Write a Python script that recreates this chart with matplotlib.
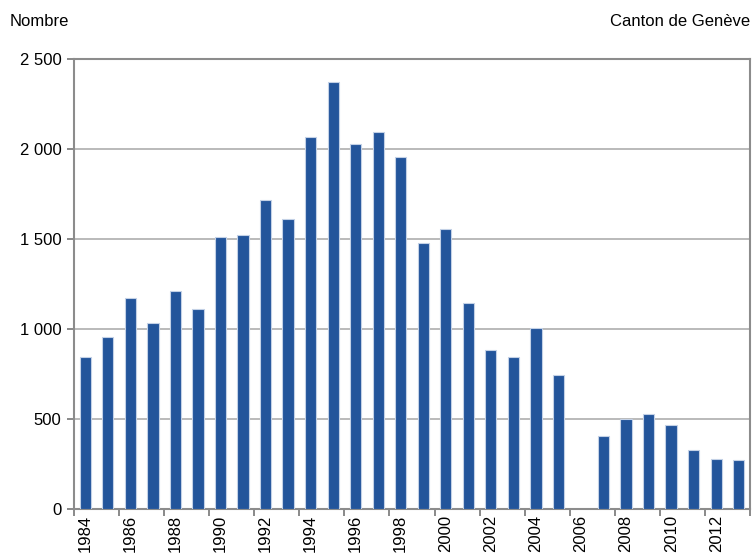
import numpy as np
import matplotlib
matplotlib.use("Agg")
import matplotlib.pyplot as plt
from matplotlib.ticker import FuncFormatter

years = list(range(1984, 2014))
values = [844, 955, 1172, 1033, 1212, 1112, 1513, 1523, 1717, 1610,
          2066, 2373, 2025, 2097, 1956, 1480, 1558, 1142, 883, 844,
          1005, 745, np.nan, 405, 498, 527, 468, 330, 280, 270]
y_ticks = [0, 500, 1000, 1500, 2000, 2500]

plt.rcParams['font.family'] = ['Liberation Sans Narrow', 'Liberation Sans', 'DejaVu Sans']

fig = plt.figure(figsize=(7.54, 5.54), dpi=100)
ax = fig.add_axes([74/754, 1-509/554, (750-74)/754, (509-59)/554])

x = np.arange(len(years))
ax.bar(x, values, width=0.5, color='#23559b', edgecolor='#c3d1e6', linewidth=0.8, zorder=3)

ax.set_xlim(-0.5, len(years)-0.5)
ax.set_ylim(0, 2500)
ax.set_yticks(y_ticks)
ax.yaxis.set_major_formatter(FuncFormatter(lambda v, p: f"{int(v):,}".replace(",", " ")))
ax.grid(axis='y', color='#b4b4b4', linewidth=1.3, zorder=0)
ax.set_axisbelow(True)

ax.set_xticks(x[::2])
ax.set_xticklabels([str(y) for y in years[::2]], rotation=90)
ax.set_xticks(np.arange(-0.5, len(years), 2), minor=True)
ax.tick_params(axis='x', which='major', length=0, pad=4, labelsize=12)
ax.tick_params(axis='x', which='minor', length=5, color='#808080', width=1.3)
ax.tick_params(axis='y', length=5, color='#808080', width=1.3, labelsize=12, pad=4)

for s in ['left', 'bottom', 'top', 'right']:
    ax.spines[s].set_color('#8c8c8c')
    ax.spines[s].set_linewidth(1.5)

fig.text(10/754, 1-21/554, "Nombre", fontsize=12, ha='left', va='center')
fig.text(750/754, 1-21/554, "Canton de Genève", fontsize=12, ha='right', va='center')

fig.savefig("out.png", dpi=100)
